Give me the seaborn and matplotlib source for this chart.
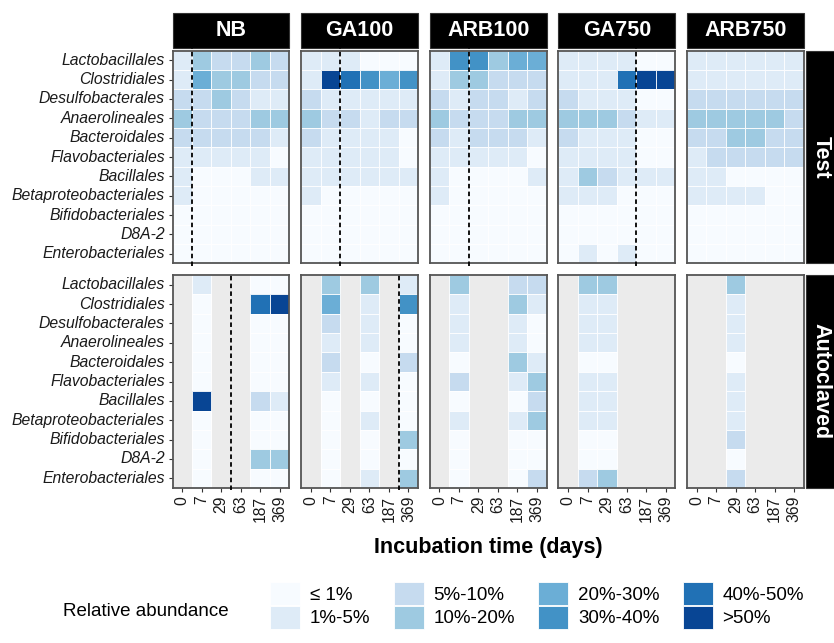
import numpy as np
import pandas as pd
import matplotlib
matplotlib.use("Agg")
import matplotlib.pyplot as plt
from matplotlib.colors import ListedColormap
from matplotlib.patches import Patch, Rectangle
import seaborn as sns

sns.set_style("white")
plt.rcParams["font.family"] = ["Liberation Sans", "DejaVu Sans"]

# ---- data -------------------------------------------------------------
orders = ["Lactobacillales", "Clostridiales", "Desulfobacterales", "Anaerolineales",
          "Bacteroidales", "Flavobacteriales", "Bacillales", "Betaproteobacteriales",
          "Bifidobacteriales", "D8A-2", "Enterobacteriales"]
times = ["0", "7", "29", "63", "187", "369"]
treatments = ["NB", "GA100", "ARB100", "GA750", "ARB750"]
conditions = ["Test", "Autoclaved"]

classes = ["\u2264 1%", "1%-5%", "5%-10%", "10%-20%",
           "20%-30%", "30%-40%", "40%-50%", ">50%"]
class_colors = ["#f7fbff", "#deebf7", "#c6dbef", "#9ecae1",
                "#6baed6", "#4292c6", "#2171b5", "#084594"]

# abundance class per order (rows) and incubation time (columns); None = not sampled
nb_test = [[1, 3, 2, 2, 3, 2], [1, 4, 3, 3, 2, 2], [2, 2, 3, 2, 1, 1], [3, 2, 2, 2, 3, 3],
           [2, 2, 2, 2, 2, 1], [1, 1, 1, 1, 1, 0], [1, 0, 0, 0, 1, 1], [1, 0, 0, 0, 0, 0],
           [0, 0, 0, 0, 0, 0], [0, 0, 0, 0, 0, 0], [0, 0, 0, 0, 0, 0]]
ga100_test = [[1, 1, 1, 0, 0, 0], [1, 7, 6, 5, 4, 5], [2, 1, 1, 1, 1, 1], [3, 2, 2, 1, 2, 2],
              [2, 1, 1, 1, 1, 0], [1, 1, 1, 1, 1, 0], [1, 1, 1, 1, 1, 1], [1, 0, 0, 0, 0, 0],
              [0, 0, 0, 0, 0, 0], [0, 0, 0, 0, 0, 0], [0, 0, 0, 0, 0, 0]]
arb100_test = [[1, 5, 5, 3, 4, 4], [1, 3, 3, 2, 2, 2], [2, 1, 2, 2, 1, 2], [3, 2, 2, 2, 3, 3],
               [2, 1, 2, 2, 2, 1], [1, 1, 1, 1, 1, 0], [1, 0, 0, 0, 0, 1], [1, 0, 0, 0, 0, 0],
               [0, 0, 0, 0, 0, 0], [0, 0, 0, 0, 0, 0], [0, 0, 0, 0, 0, 0]]
ga750_test = [[1, 1, 1, 1, 0, 0], [1, 1, 1, 6, 7, 7], [2, 1, 1, 1, 0, 0], [3, 3, 3, 2, 1, 1],
              [2, 1, 1, 1, 0, 0], [1, 1, 1, 1, 0, 0], [1, 3, 2, 1, 1, 1], [1, 1, 1, 0, 0, 0],
              [0, 0, 0, 0, 0, 0], [0, 0, 0, 0, 0, 0], [0, 1, 0, 1, 0, 0]]
arb750_test = [[1, 1, 1, 1, 1, 1], [1, 1, 1, 1, 1, 1], [2, 2, 2, 2, 2, 2], [3, 3, 3, 3, 3, 2],
               [2, 2, 3, 3, 2, 2], [1, 2, 2, 2, 2, 2], [1, 1, 0, 0, 0, 0], [1, 1, 1, 1, 0, 0],
               [0, 0, 0, 0, 0, 0], [0, 0, 0, 0, 0, 0], [0, 0, 0, 0, 0, 0]]

N = None
nb_auto = [[N, 1, N, N, 0, 0], [N, 0, N, N, 6, 7], [N, 0, N, N, 0, 0], [N, 0, N, N, 0, 0],
           [N, 0, N, N, 0, 0], [N, 0, N, N, 0, 0], [N, 7, N, N, 2, 1], [N, 0, N, N, 0, 0],
           [N, 0, N, N, 0, 0], [N, 0, N, N, 3, 3], [N, 0, N, N, 0, 0]]
ga100_auto = [[N, 3, N, 3, N, 1], [N, 4, N, 1, N, 5], [N, 2, N, 1, N, 0], [N, 1, N, 1, N, 0],
              [N, 2, N, 0, N, 2], [N, 1, N, 1, N, 0], [N, 0, N, 0, N, 0], [N, 0, N, 1, N, 0],
              [N, 0, N, 0, N, 3], [N, 0, N, 0, N, 0], [N, 0, N, 1, N, 3]]
arb100_auto = [[N, 3, N, N, 2, 2], [N, 1, N, N, 3, 1], [N, 1, N, N, 1, 0], [N, 1, N, N, 1, 0],
               [N, 0, N, N, 3, 1], [N, 2, N, N, 1, 3], [N, 0, N, N, 0, 2], [N, 1, N, N, 1, 3],
               [N, 0, N, N, 0, 0], [N, 0, N, N, 0, 0], [N, 0, N, N, 0, 2]]
ga750_auto = [[N, 3, 3, N, N, N], [N, 1, 1, N, N, N], [N, 1, 1, N, N, N], [N, 1, 1, N, N, N],
              [N, 0, 0, N, N, N], [N, 1, 1, N, N, N], [N, 1, 1, N, N, N], [N, 1, 1, N, N, N],
              [N, 0, 0, N, N, N], [N, 0, 0, N, N, N], [N, 2, 3, N, N, N]]
arb750_auto = [[N, N, 3, N, N, N], [N, N, 1, N, N, N], [N, N, 1, N, N, N], [N, N, 1, N, N, N],
               [N, N, 0, N, N, N], [N, N, 1, N, N, N], [N, N, 1, N, N, N], [N, N, 1, N, N, N],
               [N, N, 2, N, N, N], [N, N, 0, N, N, N], [N, N, 2, N, N, N]]

panels = {
    ("Test", "NB"): nb_test, ("Test", "GA100"): ga100_test, ("Test", "ARB100"): arb100_test,
    ("Test", "GA750"): ga750_test, ("Test", "ARB750"): arb750_test,
    ("Autoclaved", "NB"): nb_auto, ("Autoclaved", "GA100"): ga100_auto,
    ("Autoclaved", "ARB100"): arb100_auto, ("Autoclaved", "GA750"): ga750_auto,
    ("Autoclaved", "ARB750"): arb750_auto,
}

# time point after which the dashed marker is drawn (between two sampling days)
marker_after = {("Test", "NB"): "0", ("Test", "GA100"): "7", ("Test", "ARB100"): "7",
                ("Test", "GA750"): "63", ("Autoclaved", "NB"): "29",
                ("Autoclaved", "GA100"): "187"}

# ---- figure -----------------------------------------------------------
W, H = 834, 643
fig = plt.figure(figsize=(W / 100, H / 100), dpi=100)

cmap = ListedColormap(class_colors)
left0, step, pw = 172.5, 128.6, 117.0
tops, ph = [50.5, 275.0], 213.0
ink = "#1a1a1a"

for r, cond in enumerate(conditions):
    for c, trt in enumerate(treatments):
        left = left0 + c * step
        ax = fig.add_axes([left / W, 1 - (tops[r] + ph) / H, pw / W, ph / H])
        df = pd.DataFrame(panels[(cond, trt)], index=orders, columns=times, dtype=float)
        sns.heatmap(df, ax=ax, cmap=cmap, vmin=-0.5, vmax=len(classes) - 0.5,
                    cbar=False, linewidths=0.6, linecolor="white",
                    xticklabels=(r == 1), yticklabels=(c == 0))
        # white tile outlines only around sampled cells
        mesh = ax.collections[0]
        missing = np.ma.getmaskarray(mesh.get_array()).ravel()
        edge = np.tile([1.0, 1.0, 1.0, 0.9], (missing.size, 1))
        edge[missing, 3] = 0.0
        mesh.set_edgecolor(edge)

        ax.set_facecolor("#EBEBEB")
        ax.set_xlabel("")
        ax.set_ylabel("")
        for s in ax.spines.values():
            s.set_visible(True)
            s.set_color("#555555")
            s.set_linewidth(1.3)
        ax.tick_params(axis="both", length=3, width=0.8, color="#333333",
                       labelsize=11.3, labelcolor=ink, pad=2.5)
        ax.tick_params(left=(c == 0), bottom=(r == 1))
        if c == 0:
            for t in ax.get_yticklabels():
                t.set_rotation(0)
                t.set_fontstyle("italic")
        if r == 1:
            for t in ax.get_xticklabels():
                t.set_rotation(90)

        key = (cond, trt)
        if key in marker_after:
            xpos = times.index(marker_after[key]) + 1
            ax.axvline(xpos, ymin=-0.01, ymax=1.01, color="black", lw=1.3,
                       ls=(0, (2.5, 1.8)), clip_on=False, zorder=5)

        # column strip with treatment name
        if r == 0:
            ax.add_patch(Rectangle((0, 1 + 2.5 / ph), 1, 35 / ph, transform=ax.transAxes,
                                   facecolor="black", edgecolor="#333333", lw=0.8,
                                   clip_on=False))
            ax.text(0.5, 1 + (2.5 + 17.5) / ph, trt, transform=ax.transAxes,
                    ha="center", va="center", color="white", fontsize=15.5,
                    fontweight="bold")
        # row strip with condition name
        if c == len(treatments) - 1:
            ax.add_patch(Rectangle((1 + 2 / pw, 0), 40 / pw, 1, transform=ax.transAxes,
                                   facecolor="black", edgecolor="#333333", lw=0.8,
                                   clip_on=False))
            ax.text(1 + 17.5 / pw, 0.5, cond, transform=ax.transAxes, rotation=270,
                    ha="center", va="center", color="white", fontsize=15.5,
                    fontweight="bold")

fig.text((left0 + (left0 + 4 * step + pw)) / 2 / W, 1 - 548 / H, "Incubation time (days)",
         ha="center", va="center", fontsize=15.5, fontweight="bold", color="black")

# legend
handles = [Patch(facecolor=col, edgecolor="white", linewidth=0.6) for col in class_colors]
fs = 13.5
fpx = fs * 100 / 72
fig.legend(handles, classes, loc="upper left", bbox_to_anchor=(270 / W, 1 - 582 / H),
           ncol=4, frameon=False, fontsize=fs, borderpad=0, borderaxespad=0,
           handlelength=30 / fpx, handleheight=28 / fpx, handletextpad=10 / fpx,
           columnspacing=23 / fpx, labelspacing=0.05, labelcolor="black")
fig.text(63 / W, 1 - 612 / H, "Relative abundance", ha="left", va="center",
         fontsize=fs, color="black")

fig.savefig("out.png", dpi=100)
